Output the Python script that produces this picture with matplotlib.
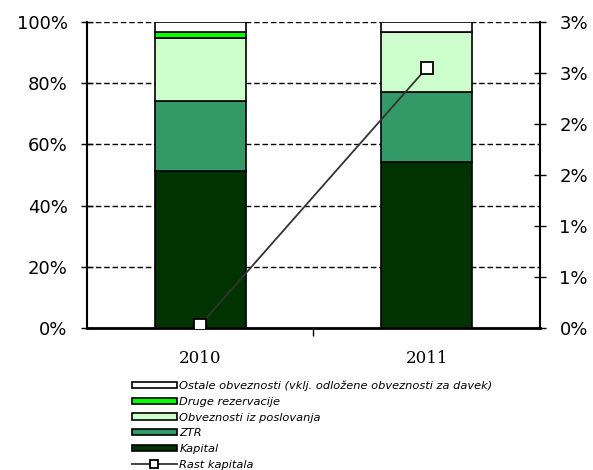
import math
import matplotlib.pyplot as plt
import matplotlib.ticker as mticker
import numpy as np

years = ["2010", "2011"]

# deleži v strukturi obveznosti (v %)
kapital = [51.3, 54.2]
ztr = [23.0, 23.0]
obveznosti_posl = [20.6, 19.6]
druge_rez = [1.9, 0.0]
ostale = [3.2, 3.2]

# rast kapitala (v %)
rast_kapitala = [0.03, 2.55]

series = [
    ("Kapital", kapital, "#003300"),
    ("ZTR", ztr, "#339966"),
    ("Obveznosti iz poslovanja", obveznosti_posl, "#CCFFCC"),
    ("Druge rezervacije", druge_rez, "#00FF00"),
    ("Ostale obveznosti (vklj. odložene obveznosti za davek)", ostale, "#FFFFFF"),
]


def pct(v, pos):
    # zaokroževanje navzgor pri polovicah, kot v Excelu
    return f"{math.floor(v + 0.5 + 1e-9):d}%"


fig = plt.figure(figsize=(5.93, 4.70), dpi=100)
ax = fig.add_axes([0.1467, 0.3021, 0.7639, 0.6511])

x = np.arange(len(years))
bottom = np.zeros(len(years))
handles = []
for name, vals, col in series:
    vals = np.array(vals)
    b = ax.bar(x, vals, 0.4, bottom=bottom, color=col, edgecolor="black",
               linewidth=1.2, label=name, zorder=3)
    handles.append(b)
    bottom += vals

ax.set_xlim(-0.5, 1.5)
ax.set_ylim(0, 100)
ax.set_yticks(np.arange(0, 101, 20))
ax.yaxis.set_major_formatter(mticker.FuncFormatter(pct))
ax.set_xticks(x)
ax.set_xticklabels(years, family="DejaVu Serif", fontsize=12)
ax.set_xticks([0.5], minor=True)
ax.tick_params(axis="x", which="major", length=0, pad=16)
ax.tick_params(axis="x", which="minor", length=6, direction="out", width=1)
ax.tick_params(axis="y", direction="inout", length=8, width=1, labelsize=13, pad=10)

for y in range(20, 101, 20):
    ax.axhline(y, color="black", lw=1, ls=(0, (4, 2)), zorder=1)

for s in ["top", "right"]:
    ax.spines[s].set_visible(False)
ax.spines["left"].set_linewidth(1.5)
ax.spines["bottom"].set_linewidth(2)

ax2 = ax.twinx()
ax2.set_ylim(0, 3)
ax2.set_yticks(np.arange(0, 3.01, 0.5))
ax2.yaxis.set_major_formatter(mticker.FuncFormatter(pct))
ax2.tick_params(axis="y", direction="inout", length=8, width=1, labelsize=13, pad=10)
for s in ["top", "left", "bottom"]:
    ax2.spines[s].set_visible(False)
ax2.spines["right"].set_linewidth(1.5)

line, = ax2.plot(x, rast_kapitala, color="#333333", lw=1.3, marker="s",
                 markersize=9, markerfacecolor="white", markeredgecolor="black",
                 markeredgewidth=1.3, label="Rast kapitala", zorder=5)

leg_handles = handles[::-1] + [line]
leg_labels = [h.get_label() for h in leg_handles]
fig.legend(leg_handles, leg_labels, loc="upper left",
           bbox_to_anchor=(0.222, 0.19), frameon=False,
           prop={"style": "italic", "size": 8.2},
           handlelength=4.0, handleheight=0.5, labelspacing=0.5,
           handletextpad=0.2, borderpad=0, borderaxespad=0, markerscale=0.7)

plt.savefig("out.png", dpi=100)
